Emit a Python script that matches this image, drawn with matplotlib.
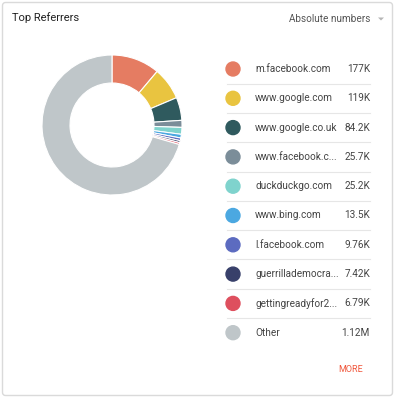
import matplotlib
matplotlib.use("Agg")
import matplotlib.pyplot as plt
from matplotlib.patches import FancyBboxPatch, Circle

referrers = ["m.facebook.com", "www.google.com", "www.google.co.uk", "www.facebook.c...",
             "duckduckgo.com", "www.bing.com", "l.facebook.com", "guerrillademocra...",
             "gettingreadyfor2...", "Other"]
hits = [177000, 119000, 84200, 25700, 25200, 13500, 9760, 7420, 6790, 1120000]
hit_labels = ["177K", "119K", "84.2K", "25.7K", "25.2K", "13.5K", "9.76K", "7.42K", "6.79K", "1.12M"]
colors = ["#E57C62", "#E9C440", "#2F5A5E", "#7B8D99", "#7FD3CD",
          "#4BA8E1", "#5C6BC0", "#38406A", "#DE4F5E", "#BFC6C9"]

plt.rcParams["font.family"] = ["Roboto", "DejaVu Sans"]
W, H = 397, 400
fig = plt.figure(figsize=[W / 100, H / 100], dpi=100)

def fx(x):
    return x / W

def fy(y):
    return 1 - y / H

# card background
bg = fig.add_axes([0, 0, 1, 1])
bg.set_xlim(0, W)
bg.set_ylim(H, 0)
bg.axis("off")
bg.add_patch(FancyBboxPatch((2.5, 2.5), 390, 393, boxstyle="round,pad=0,rounding_size=3",
                            fc="white", ec="#DADADA", lw=1))

fig.text(fx(12), fy(18), "Top Referrers", fontsize=8, color="#222222", va="center")
fig.text(fx(370), fy(19), "Absolute numbers", fontsize=7.2, color="#555555", va="center", ha="right")
bg.fill([378, 384, 381], [17.5, 17.5, 20.5], color="#B5B5B5", lw=0)

# donut
cx, cy, r = 112, 125, 70
half = 78
ax = fig.add_axes([fx(cx - half), fy(cy + half), 2 * half / W, 2 * half / H])
ax.pie(hits, colors=colors, startangle=90, counterclock=False, radius=1,
       wedgeprops=dict(width=0.4, edgecolor="white", linewidth=0.8))
ax.set_xlim(-half / r, half / r)
ax.set_ylim(-half / r, half / r)
ax.set_aspect("equal")
ax.axis("off")

# legend rows
row0, step = 69, 29.3
for i, (name, lab, c) in enumerate(zip(referrers, hit_labels, colors)):
    y = row0 + i * step
    bg.add_patch(Circle((233, y), 7, color=c))
    bg.text(255, y, name, fontsize=7.2, color="#444444", va="center")
    bg.text(370, y, lab, fontsize=7.2, color="#444444", va="center", ha="right")
    if i < len(referrers) - 1:
        bg.plot([227, 370], [y + step / 2, y + step / 2], color="#E6E6E6", lw=0.8)

fig.text(fx(363), fy(370), "MORE", fontsize=6.5, color="#F0553A", va="center", ha="right")

fig.savefig("out.png", dpi=100)
